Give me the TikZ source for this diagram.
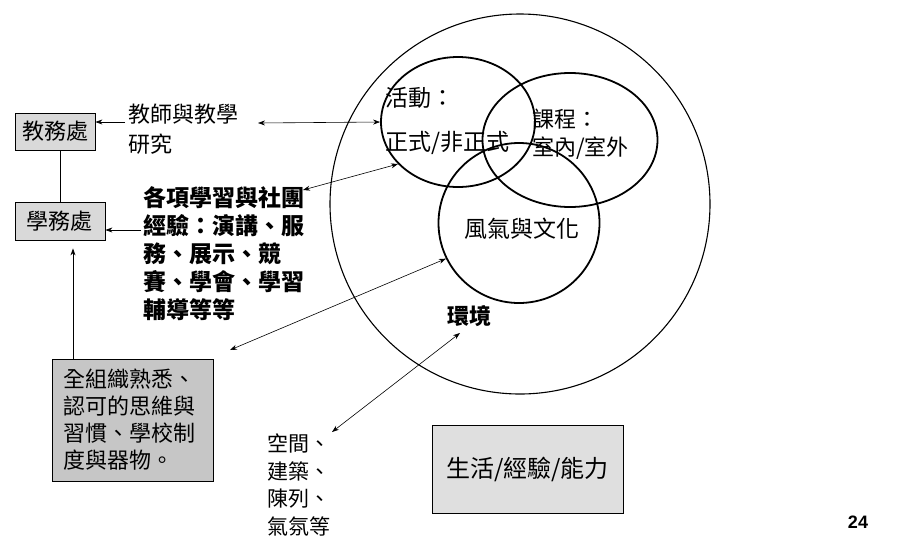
\documentclass[tikz,border=0pt]{standalone}
\usepackage{fontspec}
\setmainfont{Noto Sans CJK TC}
\newfontfamily\latin{Liberation Sans}
\usetikzlibrary{arrows.meta,shapes.geometric}

\begin{document}
\begin{tikzpicture}[x=1pt, y=-1pt,
        every node/.style={inner sep=0pt, font=\fontsize{22}{28}\selectfont},
        office/.style={draw, fill=gray!30, line width=0.8pt},
        ring/.style={draw, ellipse, line width=1.8pt},
        arr/.style={-{Stealth[length=7pt,width=5pt]}, line width=0.6pt},
        dbl/.style={{Stealth[length=7pt,width=5pt]}-{Stealth[length=7pt,width=5pt]}, line width=0.6pt}]
        \useasboundingbox (0,0) rectangle (916,558);

        % circles
        \node[draw, circle, line width=1.1pt, minimum size=380pt] (env) at (520,204) {};
        \node[ring, minimum width=154pt, minimum height=130pt] (act) at (458,122) {};
        \node[ring, minimum width=175pt, minimum height=134pt] (crs) at (570,140) {};
        \node[ring, minimum width=161pt, minimum height=160pt] (cul) at (519,223) {};

        \node[anchor=north west, align=left, font=\fontsize{23}{44}\selectfont] (hd) at (385,87) {活動：\\正式/非正式};
        \node[anchor=north west, align=left, font=\fontsize{22}{28}\selectfont] (kc) at (532,109) {課程：\\室內/室外};
        \node[font=\fontsize{23}{28}\selectfont] (fq) at (522,229) {風氣與文化};
        \node[font=\bfseries\fontsize{22}{28}\selectfont] (hj) at (469,316) {環境};

        % offices
        \node[office, minimum width=80pt, minimum height=37pt] (jwc) at (55,131.5) {教務處};
        \node[office, minimum width=90pt, minimum height=38pt] (xwc) at (60,221) {學務處};
        \node[office, fill=gray!45, minimum width=161pt, minimum height=122pt, text width=138pt, align=left,
            font=\fontsize{22}{27}\selectfont] (zz) at (132.5,420) {全組織熟悉、\\認可的思維與\\習慣、學校制\\度與器物。};
        \node[office, fill=gray!25, minimum width=191pt, minimum height=88pt, font=\fontsize{24}{28}\selectfont] (sh) at (527.5,469) {生活/經驗/能力};

        % labels
        \node[anchor=north west, align=left, font=\fontsize{22}{30}\selectfont] (js) at (128,104) {教師與教學\\研究};
        \node[anchor=north west, align=left, font=\bfseries\fontsize{23}{28}\selectfont] (gx) at (143,186) {各項學習與社團\\經驗：演講、服\\務、展示、競\\賽、學會、學習\\輔導等等};
        \node[anchor=north west, align=left, font=\fontsize{21}{27.5}\selectfont] (kj) at (267,434) {空間、\\建築、\\陳列、\\氣氛等};
        \node[font=\latin\bfseries\fontsize{18}{20}\selectfont] (pg) at (858,522) {24};

        % free arrow ends
        \coordinate (jsA) at (125,122);
        \coordinate (jsB) at (258,123);
        \coordinate (gxA) at (141,230);
        \coordinate (gxB) at (303,190);
        \coordinate (zzA) at (230,350);
        \coordinate (kjA) at (332,432);
        \coordinate (hjA) at (460,333);

        \draw[line width=0.8pt] (jwc.south -| xwc.north) -- (xwc.north);
        \draw[arr] (jsA) -- (jsA -| jwc.east);
        \draw[arr] (gxA) -- (gxA -| xwc.east);
        \draw[arr, line width=0.8pt] ([xshift=13]zz.north -| xwc.south) -- ([xshift=13,yshift=-8]xwc.south);

        \draw[dbl] (jsB) -- (act.west);
        \draw[dbl] (gxB) -- (act.215);
        \draw[dbl] (zzA) -- (cul.206);
        \draw[dbl] (kjA) -- (hjA);
    \end{tikzpicture}
\end{document}
